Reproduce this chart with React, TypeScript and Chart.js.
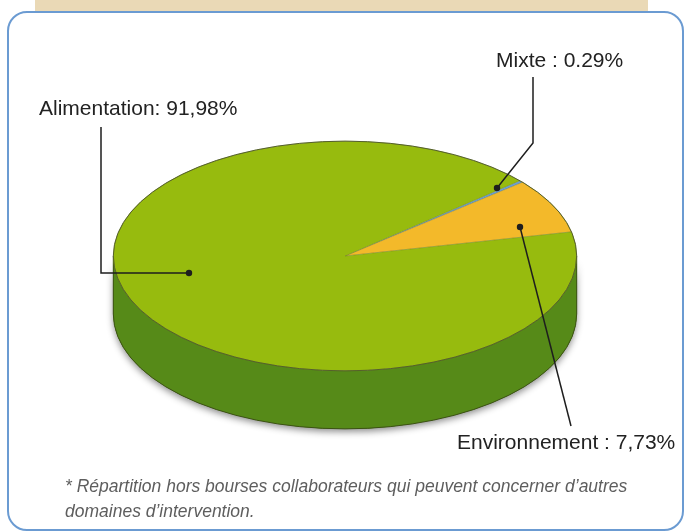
import React, { useEffect, useRef } from "react";
import { Chart, registerables } from "chart.js";

Chart.register(...registerables);

// ---- data ----
const categories = ["Mixte", "Environnement", "Alimentation"];
const values = [0.29, 7.73, 91.98];
const labelTexts = ["Mixte : 0.29%", "Environnement : 7,73%", "Alimentation: 91,98%"];
const topColors = ["#6ca0d4", "#f3b92a", "#97bb0e"];
const sideColors = ["#4f7fae", "#c8921a", "#568a18"];

// ---- layout ----
const W = 685;
const H = 532;
const TILT = 115 / 232;
const DEPTH = 58;
// callout polylines (annotation geometry), last point gets a dot
const callouts: number[][][] = [
  [[533, 77], [533, 143], [497, 188]],
  [[571, 426], [520, 227]],
  [[101, 127], [101, 273], [189, 273]],
];
const labelPos = [
  { left: 496, top: 49 },
  { left: 457, top: 431 },
  { left: 39, top: 97 },
];

const pie3d = {
  id: "pie3d",
  beforeDatasetsDraw(chart: any) {
    const ctx = chart.ctx as CanvasRenderingContext2D;
    const arcs = chart.getDatasetMeta(0).data;
    if (!arcs.length) return;
    const { x, y } = arcs[0];
    const d = DEPTH / TILT;
    ctx.save();
    ctx.translate(x, y);
    ctx.scale(1, TILT);
    ctx.translate(-x, -y);
    // shadow under the cylinder
    const R0 = arcs[0].outerRadius;
    ctx.save();
    ctx.shadowColor = "rgba(0,0,0,0.45)";
    ctx.shadowBlur = 7;
    ctx.shadowOffsetY = 3;
    ctx.beginPath();
    ctx.arc(x, y, R0, 0, Math.PI);
    ctx.arc(x, y + d, R0, Math.PI, 0, true);
    ctx.closePath();
    ctx.fillStyle = sideColors[2];
    ctx.fill();
    ctx.restore();
    arcs.forEach((arc: any, i: number) => {
      const a = arc.startAngle;
      const b = arc.endAngle;
      const R = arc.outerRadius;
      for (let k = -1; k <= 2; k++) {
        const lo = Math.max(a, 2 * Math.PI * k);
        const hi = Math.min(b, 2 * Math.PI * k + Math.PI);
        if (hi > lo) {
          ctx.beginPath();
          ctx.arc(x, y, R, lo, hi);
          ctx.lineTo(x + R * Math.cos(hi), y + d + R * Math.sin(hi));
          ctx.arc(x, y + d, R, hi, lo, true);
          ctx.closePath();
          ctx.fillStyle = sideColors[i];
          ctx.fill();
        }
      }
    });
    // side outline
    ctx.beginPath();
    ctx.moveTo(x - R0, y);
    ctx.lineTo(x - R0, y + d);
    ctx.arc(x, y + d, R0, Math.PI, 0, true);
    ctx.lineTo(x + R0, y);
    ctx.restore();
    ctx.save();
    ctx.strokeStyle = "#3c5214";
    ctx.lineWidth = 1;
    ctx.stroke();
    ctx.restore();
    // re-apply transform for the datasets
    ctx.save();
    ctx.translate(x, y);
    ctx.scale(1, TILT);
    ctx.translate(-x, -y);
  },
  afterDatasetsDraw(chart: any) {
    const ctx = chart.ctx as CanvasRenderingContext2D;
    const arcs = chart.getDatasetMeta(0).data;
    if (!arcs.length) return;
    ctx.restore();
    const { x, y, outerRadius } = arcs[0];
    ctx.save();
    ctx.beginPath();
    ctx.ellipse(x, y, outerRadius, outerRadius * TILT, 0, 0, Math.PI * 2);
    ctx.strokeStyle = "#55602a";
    ctx.lineWidth = 1;
    ctx.stroke();
    // callouts
    ctx.strokeStyle = "#1e1e1e";
    ctx.fillStyle = "#1e1e1e";
    ctx.lineWidth = 1.5;
    callouts.forEach((pts) => {
      ctx.beginPath();
      pts.forEach((p, j) => (j === 0 ? ctx.moveTo(p[0], p[1]) : ctx.lineTo(p[0], p[1])));
      ctx.stroke();
      const last = pts[pts.length - 1];
      ctx.beginPath();
      ctx.arc(last[0], last[1], 3.2, 0, Math.PI * 2);
      ctx.fill();
    });
    ctx.restore();
  },
};

export default function App() {
  const ref = useRef<HTMLCanvasElement | null>(null);
  useEffect(() => {
    if (!ref.current) return;
    const chart = new Chart(ref.current, {
      type: "pie",
      data: {
        labels: categories,
        datasets: [
          {
            data: values,
            backgroundColor: topColors,
            borderColor: "rgba(90,100,40,0.6)",
            borderWidth: 0.6,
            hoverOffset: 0,
            clip: false,
          } as any,
        ],
      },
      options: {
        responsive: false,
        animation: false,
        rotation: 49,
        layout: { padding: { left: 113, right: 108, top: 24, bottom: 44 } },
        plugins: { legend: { display: false }, tooltip: { enabled: false } },
        events: [],
      },
      plugins: [pie3d],
    });
    return () => chart.destroy();
  }, []);

  return (
    <div
      style={{
        position: "absolute",
        left: 0,
        top: 0,
        width: W,
        height: H,
        overflow: "hidden",
        background: "#ffffff",
        fontFamily: "'Liberation Sans', Arial, sans-serif",
      }}
    >
      <div
        style={{
          position: "absolute",
          left: 35,
          top: 0,
          width: 613,
          height: 13,
          background: "#ead9b6",
        }}
      />
      <div
        style={{
          position: "absolute",
          left: 7,
          top: 11,
          width: 677,
          height: 520,
          boxSizing: "border-box",
          border: "2px solid #6b9bd2",
          borderRadius: 20,
          background: "#ffffff",
        }}
      />
      <canvas
        ref={ref}
        width={W}
        height={H}
        style={{ position: "absolute", left: 0, top: 0, width: W, height: H }}
      />
      {labelTexts.map((t, i) => (
        <div
          key={i}
          style={{
            position: "absolute",
            left: labelPos[i].left,
            top: labelPos[i].top,
            fontSize: 21,
            lineHeight: "21px",
            color: "#222222",
            whiteSpace: "nowrap",
          }}
        >
          {t}
        </div>
      ))}
      <div
        style={{
          position: "absolute",
          left: 65,
          top: 474,
          width: 600,
          fontSize: 17.5,
          lineHeight: "25px",
          fontStyle: "italic",
          color: "#5e5e5e",
        }}
      >
        * Répartition hors bourses collaborateurs qui peuvent concerner d’autres
        <br />
        domaines d’intervention.
      </div>
    </div>
  );
}
